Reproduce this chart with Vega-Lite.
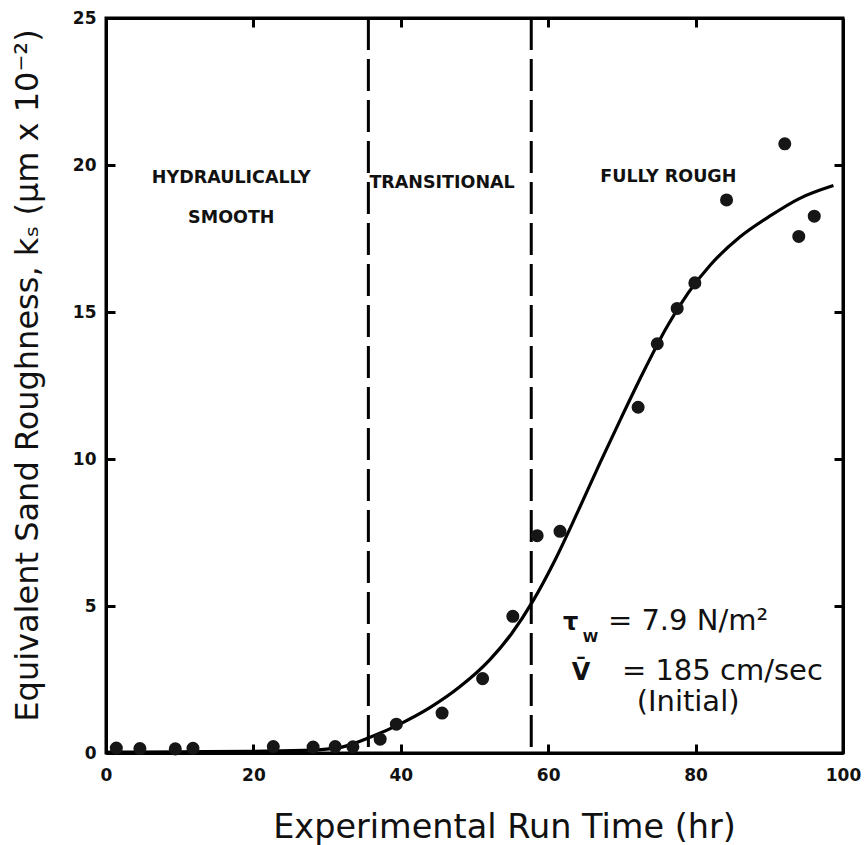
{
  "$schema": "https://vega.github.io/schema/vega-lite/v6.json",
  "width": 737,
  "height": 735,
  "autosize": {"type": "none"},
  "padding": {"left": 106, "top": 18, "right": 22, "bottom": 92},
  "background": "white",
  "config": {
    "view": {"stroke": "black", "strokeWidth": 3},
    "axis": {
      "grid": false,
      "zindex": 1,
      "domainColor": "black",
      "domainWidth": 3,
      "tickColor": "black",
      "tickWidth": 3,
      "labelFont": "DejaVu Sans",
      "labelFontWeight": "bold",
      "labelFontSize": 17,
      "labelColor": "#111",
      "labelFlush": false,
      "labelOverlap": false,
      "titleFont": "DejaVu Sans",
      "titleFontWeight": "normal",
      "titleColor": "#111"
    }
  },
  "resolve": {"axis": {"x": "independent", "y": "independent"}},
  "layer": [
    {
      "data": {"values": [
        {"t": 0, "ks": 0.03}, {"t": 10, "ks": 0.04}, {"t": 20, "ks": 0.06}, {"t": 28, "ks": 0.1},
        {"t": 32, "ks": 0.2}, {"t": 36, "ks": 0.55}, {"t": 40, "ks": 1.0}, {"t": 44, "ks": 1.55},
        {"t": 48, "ks": 2.25}, {"t": 52, "ks": 3.15}, {"t": 55, "ks": 4.05}, {"t": 58, "ks": 5.2},
        {"t": 61, "ks": 6.6}, {"t": 64, "ks": 8.2}, {"t": 67, "ks": 9.85}, {"t": 70, "ks": 11.45},
        {"t": 73, "ks": 13.0}, {"t": 76, "ks": 14.45}, {"t": 79, "ks": 15.65}, {"t": 82, "ks": 16.6},
        {"t": 86, "ks": 17.55}, {"t": 90, "ks": 18.25}, {"t": 94, "ks": 18.85}, {"t": 98.7, "ks": 19.3}
      ]},
      "mark": {"type": "line", "interpolate": "monotone", "color": "black", "strokeWidth": 3.2},
      "encoding": {
        "x": {"field": "t", "type": "quantitative", "scale": {"domain": [0, 100], "nice": false},
          "axis": {"orient": "bottom", "values": [0, 20, 40, 60, 80, 100], "ticks": true, "tickSize": -9, "labelPadding": 23,
            "title": "Experimental Run Time (hr)", "titleFontSize": 33.5, "titleX": 398, "titleY": 84, "titleBaseline": "alphabetic", "titleAnchor": "middle", "titleAlign": "center"}},
        "y": {"field": "ks", "type": "quantitative", "scale": {"domain": [0, 25], "nice": false},
          "axis": {"orient": "left", "values": [0, 5, 10, 15, 20, 25], "ticks": true, "tickSize": -9, "labelPadding": 19,
            "title": "Equivalent Sand Roughness, kₛ (μm x 10⁻²)", "titleFontSize": 32, "titleX": -79, "titleY": 357, "titleBaseline": "middle", "titleAlign": "center", "titleAngle": -90}}
      }
    },
    {
      "data": {"values": [{"bound": 35.6}, {"bound": 57.7}]},
      "mark": {"type": "rule", "color": "black", "strokeWidth": 3, "strokeDash": [32, 9]},
      "encoding": {
        "x": {"field": "bound", "type": "quantitative", "scale": {"domain": [0, 100], "nice": false}, "axis": null}
      }
    },
    {
      "data": {"values": [
        {"t": 1.4, "ks": 0.17}, {"t": 4.6, "ks": 0.15}, {"t": 9.4, "ks": 0.14}, {"t": 11.8, "ks": 0.16},
        {"t": 22.7, "ks": 0.22}, {"t": 28.1, "ks": 0.2}, {"t": 31.1, "ks": 0.22}, {"t": 33.5, "ks": 0.21},
        {"t": 37.2, "ks": 0.47}, {"t": 39.4, "ks": 0.98}, {"t": 45.6, "ks": 1.36}, {"t": 51.1, "ks": 2.53},
        {"t": 55.2, "ks": 4.65}, {"t": 58.5, "ks": 7.39}, {"t": 61.6, "ks": 7.54}, {"t": 72.2, "ks": 11.76},
        {"t": 74.8, "ks": 13.92}, {"t": 77.5, "ks": 15.12}, {"t": 79.9, "ks": 15.99}, {"t": 84.2, "ks": 18.81},
        {"t": 92.1, "ks": 20.72}, {"t": 94.0, "ks": 17.57}, {"t": 96.1, "ks": 18.26}
      ]},
      "mark": {"type": "circle", "color": "#161616", "opacity": 1, "size": 170},
      "encoding": {
        "x": {"field": "t", "type": "quantitative", "scale": {"domain": [0, 100], "nice": false},
          "axis": {"orient": "top", "values": [20, 40, 60, 80], "labels": false, "ticks": true, "tickSize": -9, "title": null}},
        "y": {"field": "ks", "type": "quantitative", "scale": {"domain": [0, 25], "nice": false},
          "axis": {"orient": "right", "values": [5, 10, 15, 20], "labels": false, "ticks": true, "tickSize": -9, "title": null}}
      }
    },
    {
      "data": {"values": [
        {"t": 17, "ks": 19.55, "label": "HYDRAULICALLY"},
        {"t": 17, "ks": 18.2, "label": "SMOOTH"},
        {"t": 45.6, "ks": 19.4, "label": "TRANSITIONAL"},
        {"t": 76.3, "ks": 19.6, "label": "FULLY ROUGH"}
      ]},
      "mark": {"type": "text", "font": "DejaVu Sans", "fontWeight": "bold", "fontSize": 17.5, "color": "#111", "align": "center", "baseline": "middle"},
      "encoding": {
        "x": {"field": "t", "type": "quantitative", "scale": {"domain": [0, 100], "nice": false}, "axis": null},
        "y": {"field": "ks", "type": "quantitative", "scale": {"domain": [0, 25], "nice": false}, "axis": null},
        "text": {"field": "label"}
      }
    },
    {
      "data": {"values": [
        {"t": 68.1, "ks": 4.17, "label": "= 7.9 N/m²"},
        {"t": 70.0, "ks": 2.5, "label": "= 185 cm/sec"},
        {"t": 72.0, "ks": 1.42, "label": "(Initial)"}
      ]},
      "mark": {"type": "text", "font": "DejaVu Sans", "fontSize": 29, "color": "#111", "align": "left", "baseline": "alphabetic"},
      "encoding": {
        "x": {"field": "t", "type": "quantitative", "scale": {"domain": [0, 100], "nice": false}, "axis": null},
        "y": {"field": "ks", "type": "quantitative", "scale": {"domain": [0, 25], "nice": false}, "axis": null},
        "text": {"field": "label"}
      }
    },
    {
      "data": {"values": [
        {"t": 62.0, "ks": 4.17, "label": "τ"},
        {"t": 63.2, "ks": 2.48, "label": "V̄"}
      ]},
      "mark": {"type": "text", "font": "DejaVu Sans", "fontWeight": "bold", "fontSize": 24, "color": "#111", "align": "left", "baseline": "alphabetic"},
      "encoding": {
        "x": {"field": "t", "type": "quantitative", "scale": {"domain": [0, 100], "nice": false}, "axis": null},
        "y": {"field": "ks", "type": "quantitative", "scale": {"domain": [0, 25], "nice": false}, "axis": null},
        "text": {"field": "label"}
      }
    },
    {
      "data": {"values": [{"t": 64.7, "ks": 3.76, "label": "W"}]},
      "mark": {"type": "text", "font": "DejaVu Sans", "fontWeight": "bold", "fontSize": 14, "color": "#111", "align": "left", "baseline": "alphabetic"},
      "encoding": {
        "x": {"field": "t", "type": "quantitative", "scale": {"domain": [0, 100], "nice": false}, "axis": null},
        "y": {"field": "ks", "type": "quantitative", "scale": {"domain": [0, 25], "nice": false}, "axis": null},
        "text": {"field": "label"}
      }
    }
  ]
}
